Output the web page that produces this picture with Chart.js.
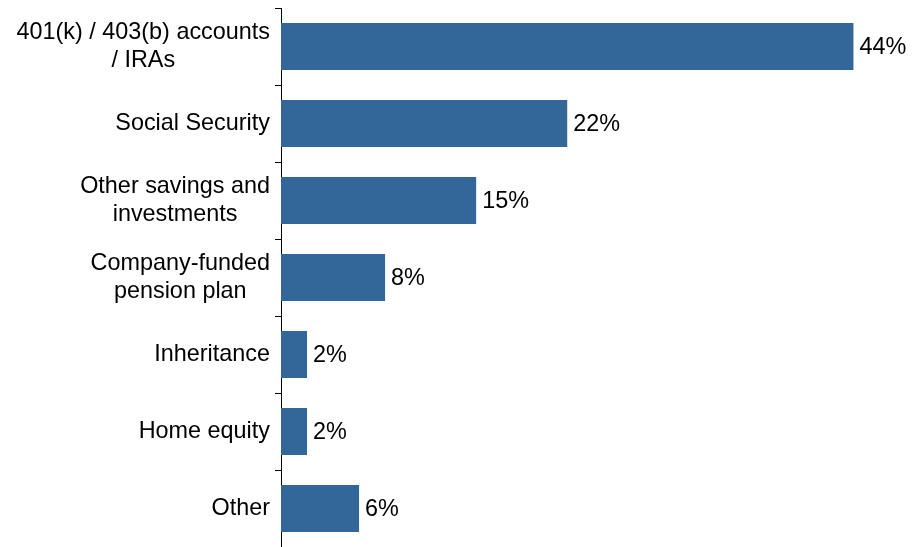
<!DOCTYPE html>
<html>
<head>
<meta charset="utf-8">
<script src="https://cdn.jsdelivr.net/npm/chart.js@4/dist/chart.umd.min.js"></script>
<style>
  body { margin: 0; background: #fff; }
  #wrap { width: 912px; height: 547px; position: relative; }
</style>
</head>
<body>
<div id="wrap"><canvas id="myBarChart"></canvas></div>
<script>
/******************* Retirement income sources ***********************/
const labels = [
    ['401(k) / 403(b) accounts', '/ IRAs'],
    'Social Security',
    ['Other savings and', 'investments'],
    ['Company-funded', 'pension plan'],
    'Inheritance',
    'Home equity',
    'Other'
];
const values = [44, 22, 15, 8, 2, 2, 6];
const valueLabels = ['44%', '22%', '15%', '8%', '2%', '2%', '6%'];

const FONT = '"Liberation Sans", Arial, sans-serif';
const FONT_SIZE = 23.4;
const LINE_H = 28;
const BAR_COLOR = '#336699';

// draws the category labels (lines centred in each block) and the value labels
const labelPlugin = {
    id: 'labelPlugin',
    afterDraw(chart) {
        const ctx = chart.ctx;
        const y = chart.scales.y;
        const rightEdge = y.right - 6 - 5;
        ctx.save();
        ctx.font = FONT_SIZE + 'px ' + FONT;
        ctx.fillStyle = '#000';
        ctx.textBaseline = 'middle';
        ctx.textAlign = 'center';
        labels.forEach((lab, i) => {
            const lines = Array.isArray(lab) ? lab : [lab];
            const w = Math.max(...lines.map(l => ctx.measureText(l).width));
            const cx = rightEdge - w / 2;
            const cy = y.getPixelForValue(i);
            lines.forEach((l, j) => {
                ctx.fillText(l, cx, cy + (j - (lines.length - 1) / 2) * LINE_H);
            });
        });
        ctx.textAlign = 'left';
        chart.getDatasetMeta(0).data.forEach((bar, i) => {
            ctx.fillText(valueLabels[i], bar.x + 6, bar.y + 1);
        });
        ctx.restore();
    }
};

const config = {
    type: 'bar',
    data: {
        labels: labels,
        datasets: [{
            data: values,
            backgroundColor: BAR_COLOR,
            borderWidth: 0,
            categoryPercentage: 1,
            barPercentage: 0.61
        }]
    },
    options: {
        indexAxis: 'y',
        responsive: true,
        maintainAspectRatio: false,
        animation: false,
        layout: { padding: { top: 8, right: 0, bottom: 0, left: 0 } },
        plugins: {
            legend: { display: false },
            tooltip: { enabled: false }
        },
        scales: {
            x: {
                display: false,
                min: 0,
                max: 48.5
            },
            y: {
                afterFit: (s) => { s.width = 281; s.paddingTop = 0; s.paddingBottom = 0; },
                border: { display: true, color: '#000', width: 1 },
                grid: {
                    drawOnChartArea: false,
                    drawTicks: true,
                    tickLength: 6,
                    color: '#000',
                    offset: true
                },
                ticks: {
                    display: false
                }
            }
        }
    },
    plugins: [labelPlugin]
};

const myBarChart = new Chart(
    document.getElementById('myBarChart'),
    config
);
</script>
</body>
</html>
